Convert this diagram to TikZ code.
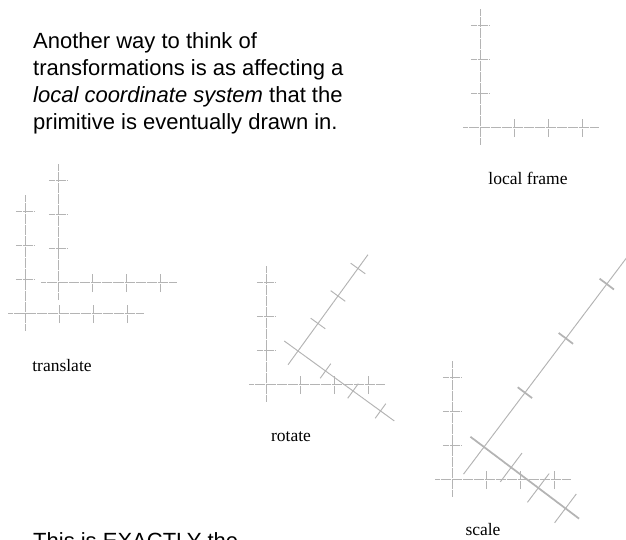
\documentclass[tikz,border=0pt]{standalone}
\usepackage{fontspec}
\setmainfont{Liberation Serif}
\newfontfamily\arialfont{Liberation Sans}
\usepackage{xcolor}
\usetikzlibrary{positioning}
\definecolor{axisgray}{HTML}{B4B4B4}

\newcommand{\tk}{0.265}
\newcommand{\axesframe}[1][]{%
  \draw[axis,#1] (-0.5,0) -- (3.5,0);
  \draw[axis] (0,-0.5) -- (0,3.5);
  \foreach \k in {1,2,3} {
    \draw[axis] (\k,-\tk) -- (\k,\tk);
    \draw[axis,#1] (-\tk,\k) -- (\tk,\k);
  }%
}

\begin{document}
\begin{tikzpicture}[x=1pt, y=1pt,
    axis/.style={draw=axisgray, line width=1pt, dash pattern=on 0.8pt off 0.3pt},
    caption/.style={font=\fontsize{17.5}{20}\selectfont, inner sep=0pt, anchor=base},
    slide/.style={font=\arialfont\fontsize{22}{27}\selectfont, inner sep=0pt, align=left}
]
\useasboundingbox (0,0) rectangle (626,540);

\node[slide, anchor=north west] (intro) at (33,508)
  {Another way to think of\\transformations is as affecting a\\\textit{local coordinate system} that the\\primitive is eventually drawn in.};
\node[slide, anchor=base west] (exact) at (33,-9) {This is EXACTLY the};

\begin{scope}[shift={(480,412)}, scale=34]
  \axesframe
\end{scope}
\node[caption] (lframe) at (528,355) {local frame};

\begin{scope}[shift={(25,226)}, scale=34]
  \axesframe
\end{scope}
\begin{scope}[shift={(58,257)}, scale=34]
  \axesframe
\end{scope}
\node[caption] (trans) at (62,168) {translate};

\begin{scope}[shift={(266,155)}, scale=34]
  \axesframe
\end{scope}
\begin{scope}[shift={(298,189)}, rotate=-36, scale=34]
  \axesframe
\end{scope}
\node[caption] (rot) at (291,98) {rotate};

\begin{scope}[shift={(452,60)}, scale=34]
  \axesframe
\end{scope}
\begin{scope}[shift={(484,93)}, rotate=-37, scale=34, yscale=2]
  \axesframe[line width=1.8pt]
\end{scope}
\node[caption] (scl) at (483,4) {scale};
\end{tikzpicture}
\end{document}
